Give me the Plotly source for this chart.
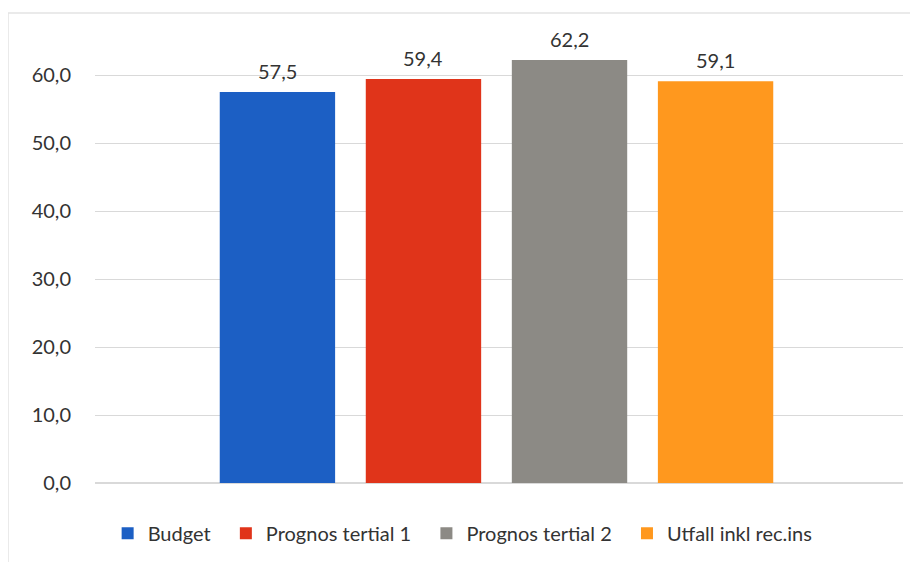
import plotly.graph_objects as go

series = ["Budget", "Prognos tertial 1", "Prognos tertial 2", "Utfall inkl rec.ins"]
values = [57.5, 59.4, 62.2, 59.1]
colors = ["#1C5FC4", "#E0341A", "#8C8A85", "#FF981E"]
tick_vals = [0, 10, 20, 30, 40, 50, 60]

NB = "\u00a0"
BARGAP = 0.277
PLOT_W = 808  # plot area width in px
slot_px = PLOT_W * (1 - BARGAP) / len(series)

fig = go.Figure()
for i, (name, v, c) in enumerate(zip(series, values, colors)):
    fig.add_trace(go.Bar(
        x=[0], y=[v], name=name + (NB * 2 if i < len(series) - 1 else ""),
        marker_color=c, marker_line_width=0,
    ))
    fig.add_annotation(
        x=0, y=v, xref="x", yref="y", text=f"{v:.1f}".replace(".", ","),
        showarrow=False, yanchor="middle", yshift=21,
        xshift=(i - (len(series) - 1) / 2) * slot_px,
        font=dict(size=20, color="#333333"),
    )

# page body has an 8px margin; figure is sized/positioned to compensate
fig.update_layout(
    width=910, height=554,
    margin=dict(l=87, r=15, t=2, b=79),
    paper_bgcolor="white", plot_bgcolor="white",
    font=dict(family="Lato", size=20, color="#333333"),
    separators=",.",
    barmode="group", bargap=BARGAP, bargroupgap=0.21,
    showlegend=True,
    legend=dict(orientation="h", x=0.455, xanchor="center", y=-0.106, yanchor="middle",
                font=dict(size=20), itemwidth=30, traceorder="normal"),
    xaxis=dict(range=[-0.4969, 0.5031], showticklabels=False, showgrid=False, zeroline=False),
    yaxis=dict(range=[0, 69.56], tickvals=tick_vals, tickformat=".1f",
               gridcolor="#D9D9D9", gridwidth=1, zeroline=True, zerolinecolor="#D9D9D9",
               ticklabelstandoff=23, tickfont=dict(size=20, color="#333333")),
)
fig.add_shape(type="line", xref="paper", yref="paper", x0=-0.1077, x1=-0.1077, y0=-0.167, y1=0.9937,
              line=dict(color="#E3E3E3", width=1.5))
fig.add_shape(type="line", xref="paper", yref="paper", x0=-0.1077, x1=1.0186, y0=0.9937, y1=0.9937,
              line=dict(color="#E3E3E3", width=1.5))
fig.write_html("out.html")
